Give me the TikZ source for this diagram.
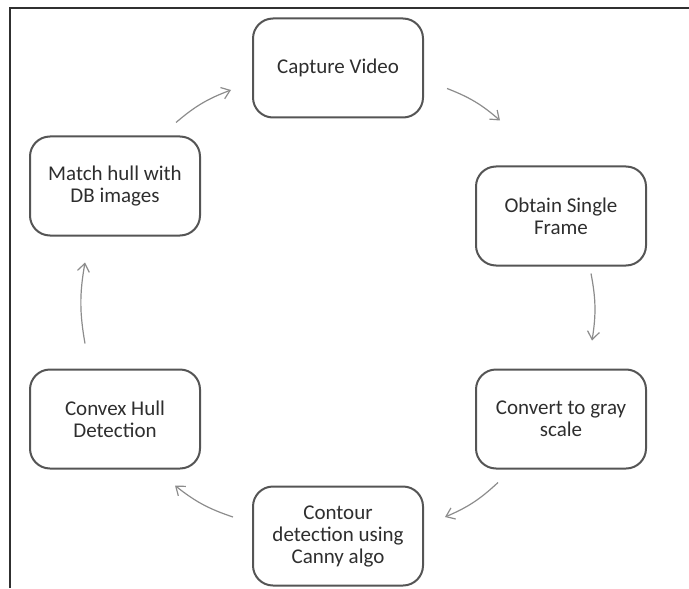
\documentclass[tikz,border=0pt]{standalone}
\usepackage{fontspec}
\setmainfont{Carlito}
\usepackage{tikz}
\usetikzlibrary{arrows.meta}
\usepackage{xcolor}

\definecolor{boxline}{HTML}{555555}
\definecolor{boxtext}{HTML}{2E2E2E}
\definecolor{flowline}{HTML}{8C8C8C}
\definecolor{frameline}{HTML}{303030}

\tikzset{
  stepbox/.style={draw=boxline, line width=1pt, rounded corners=10pt,
    minimum width=85pt, minimum height=49.5pt, align=center,
    text=boxtext, font=\fontsize{10.5}{11}\selectfont},
  flow/.style={draw=flowline, line width=0.6pt,
    -{Straight Barb[length=4pt,width=6pt]}, bend left=10}
}

\begin{document}
\begin{tikzpicture}[x=0.5pt, y=-0.5pt]
\useasboundingbox (0,0) rectangle (689,588);

% Outer frame (only top and left edges show)
\draw[frameline, line width=1.1pt] (10,588) -- (10,8) -- (689,8);

% Process steps placed round the cycle
\foreach \n/\x/\y/\t in {capture/338/68/{Capture Video},
    frame/561/216/{Obtain Single\\Frame},
    gray/561/419/{Convert to gray\\scale},
    contour/338/536/{Contour\\detection using\\Canny algo},
    hull/115/419/{Convex Hull\\Detection},
    match/115/186/{Match hull with\\DB images}} {
    \node[stepbox] (\n) at (\x,\y) {\t};
}

% Arrows between steps (they stop short of the boxes)
\draw[flow] ([shift={(23,-30)}]capture.south east) to ([shift={(25,-45)}]frame.north west);
\draw[flow] ([shift={(30,7)}]frame.south) to ([shift={(31,-28)}]gray.north);
\draw[flow] ([shift={(23,13)}]gray.south west) to ([shift={(21,-19)}]contour.east);
\draw[flow] ([shift={(-19,-19)}]contour.west) to ([shift={(-26,16)}]hull.south east);
\draw[flow] ([shift={(-30,-25)}]hull.north) to ([shift={(-30,26)}]match.south);
\draw[flow] ([shift={(-25,-13)}]match.north east) to ([shift={(-21,22)}]capture.west);

\end{tikzpicture}
\end{document}
